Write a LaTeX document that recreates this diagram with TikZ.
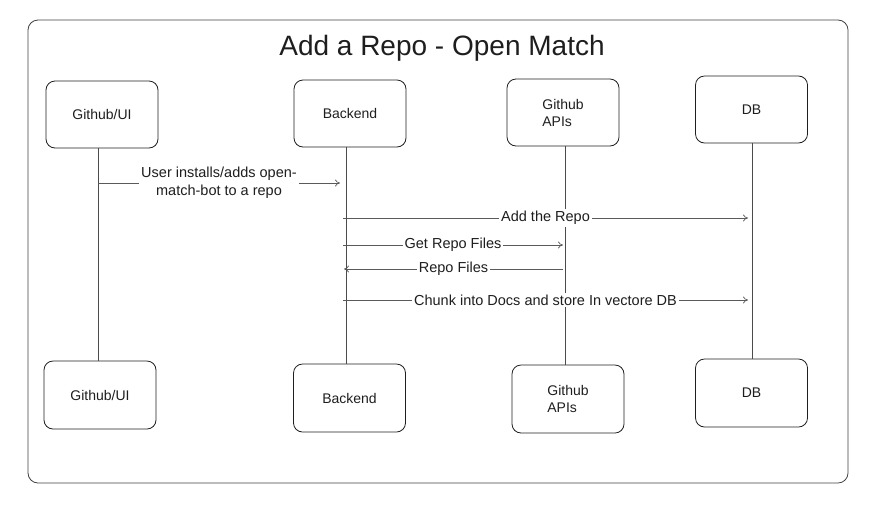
\documentclass[tikz,border=0pt]{standalone}
\usepackage{fontspec}
\setmainfont{Liberation Sans}
\usetikzlibrary{arrows.meta}
\definecolor{ink}{HTML}{1E1E1E}
\definecolor{msgcol}{HTML}{5A5A5A}
\tikzset{
  actor/.style={draw=ink, line width=0.8pt, rounded corners=9pt, minimum width=112pt, minimum height=67pt, inner sep=2pt, align=left, font=\fontsize{14}{17}\selectfont, text=ink},
  lifeline/.style={draw=ink!80, line width=0.7pt},
  msg/.style={draw=msgcol, line width=0.7pt, -{To[length=5pt,width=7pt]}},
  msglabel/.style={fill=white, inner sep=2pt, font=\fontsize{14.5}{18}\selectfont, text=ink, align=center},
  frame/.style={draw=ink!85, line width=0.8pt, rounded corners=10pt}
}
\begin{document}
\begin{tikzpicture}[x=1pt,y=-1pt]
\useasboundingbox (0,0) rectangle (869,504);
\draw[frame] (28,20) rectangle (848,483);
\node[font=\fontsize{28}{33}\selectfont, text=ink] (title) at (442,48) {Add a Repo - Open Match};

% top actors
\node[actor] (gu) at (102,114.5) {Github/UI};
\node[actor] (be) at (350,113.5) {Backend};
\node[actor] (ap) at (563,112.5) {Github\\APIs};
\node[actor] (db) at (751.5,109.5) {DB};
% bottom actors
\node[actor, minimum height=68pt] (gu2) at (100,395) {Github/UI};
\node[actor, minimum height=68pt] (be2) at (349.5,398) {Backend};
\node[actor, minimum height=68pt] (ap2) at (568,399) {Github\\APIs};
\node[actor, minimum height=68pt] (db2) at (751.5,393) {DB};

% lifelines
\coordinate (l1t) at (98,148);   \coordinate (l1b) at (98,361);
\coordinate (l2t) at (346,147);  \coordinate (l2b) at (346,364);
\coordinate (l3t) at (565,146);  \coordinate (l3b) at (565,365);
\coordinate (l4t) at (752,143);  \coordinate (l4b) at (752,359);
\draw[lifeline] (l1t) -- (l1b);
\draw[lifeline] (l2t) -- (l2b);
\draw[lifeline] (l3t) -- (l3b);
\draw[lifeline] (l4t) -- (l4b);

% messages
\coordinate (m1a) at (98,183);  \coordinate (m1b) at (340,183);
\coordinate (m2a) at (343,218); \coordinate (m2b) at (748,218);
\coordinate (m3a) at (343,245); \coordinate (m3b) at (563,245);
\coordinate (m4a) at (563,269); \coordinate (m4b) at (344,269);
\coordinate (m5a) at (343,300); \coordinate (m5b) at (748,300);

\draw[msg] (m1a) -- node[msglabel] (t1) {User installs/adds open-\\match-bot to a repo} (m1b);
\draw[msg] (m2a) -- node[msglabel] (t2) {Add the Repo} (m2b);
\draw[msg] (m3a) -- node[msglabel] (t3) {Get Repo Files} (m3b);
\draw[msg] (m4a) -- node[msglabel] (t4) {Repo Files} (m4b);
\draw[msg] (m5a) -- node[msglabel] (t5) {Chunk into Docs and store In vectore DB} (m5b);
\end{tikzpicture}
\end{document}
